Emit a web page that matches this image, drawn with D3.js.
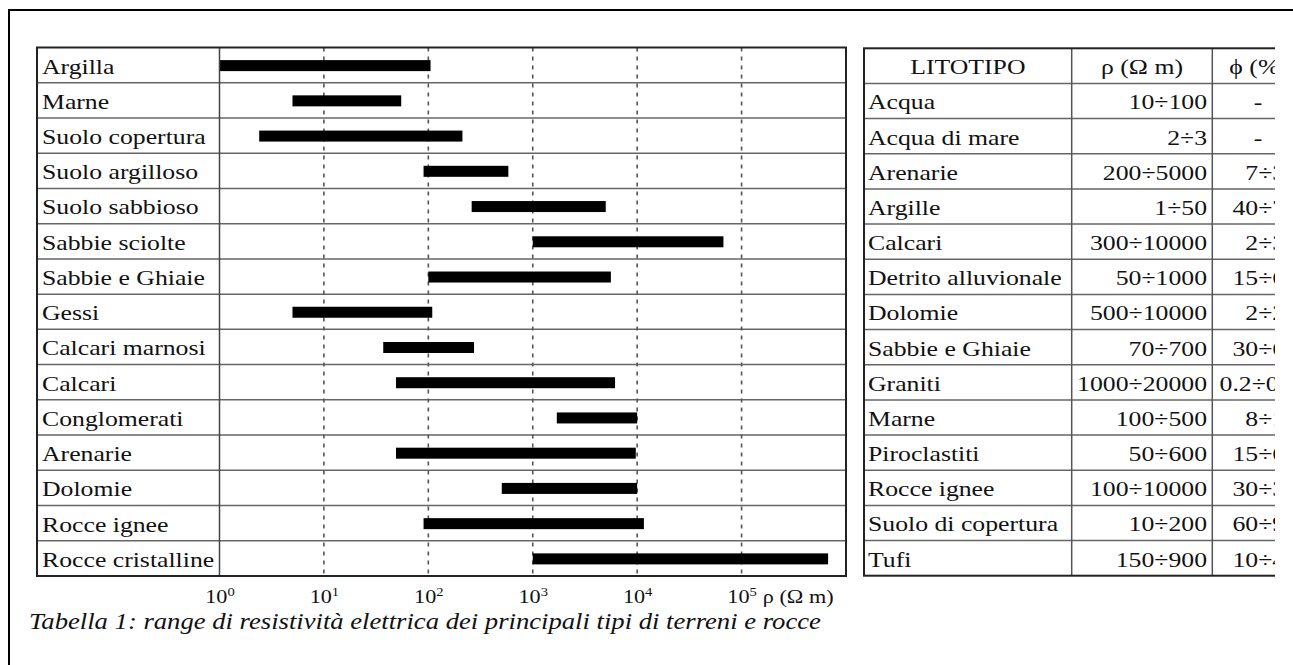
<!DOCTYPE html>
<html>
<head>
<meta charset="utf-8">
<script src="https://cdn.jsdelivr.net/npm/d3@7"></script>
<style>
  html, body { margin: 0; padding: 0; background: #fff; }
  svg { display: block; }
  text { font-family: "Liberation Serif", "Times New Roman", serif; fill: #111; }
</style>
</head>
<body>
<script>
// ---------- data ----------
const categories = ["Argilla","Marne","Suolo copertura","Suolo argilloso","Suolo sabbioso","Sabbie sciolte","Sabbie e Ghiaie","Gessi","Calcari marnosi","Calcari","Conglomerati","Arenarie","Dolomie","Rocce ignee","Rocce cristalline"];
const rhoMin = [1, 5, 2.4, 90, 260, 1000, 100, 5, 37, 49, 1700, 49, 505, 90, 1000];
const rhoMax = [105, 55, 212, 584, 5000, 67000, 5600, 109, 274, 6140, 10000, 9700, 10000, 11600, 674000];
const tickValues = [1, 10, 100, 1000, 10000, 100000];
const tickExponents = ["0", "1", "2", "3", "4", "5"];
const axisUnit = "ρ (Ω m)";
const caption = "Tabella 1: range di resistività elettrica dei principali tipi di terreni e rocce";

const tableHeader = ["LITOTIPO", "ρ (Ω m)", "ϕ (%)"];
const litotipi = ["Acqua","Acqua di mare","Arenarie","Argille","Calcari","Detrito alluvionale","Dolomie","Sabbie e Ghiaie","Graniti","Marne","Piroclastiti","Rocce ignee","Suolo di copertura","Tufi"];
const rhoRanges = ["10÷100","2÷3","200÷5000","1÷50","300÷10000","50÷1000","500÷10000","70÷700","1000÷20000","100÷500","50÷600","100÷10000","10÷200","150÷900"];
const phiRanges = ["-","-","7÷30","40÷70","2÷30","15÷60","2÷20","30÷60","0.2÷0.5","8÷15","15÷60","30÷35","60÷90","10÷40"];

// ---------- layout ----------
const W = 1293, H = 665;
const SX = 1.17; // horizontal glyph stretch of the source picture
const svg = d3.select("body").append("svg").attr("width", W).attr("height", H);
svg.append("rect").attr("width", W).attr("height", H).attr("fill", "#fff");

// page frame
svg.append("path").attr("d", "M9,665V10H1293").attr("fill", "none").attr("stroke", "#000").attr("stroke-width", 2);

// ---------- left chart ----------
const cLeft = 37, labelRight = 219.5, cRight = 846, cTop = 47.5, cBottom = 576;
const x = d3.scaleLog().domain([1, 1e6]).range([labelRight, cRight]);
const y = d3.scaleBand().domain(categories).range([cTop, cBottom]);

const chart = svg.append("g");
// row separators
chart.selectAll("line.row").data(categories.slice(1)).join("line")
  .attr("class", "row")
  .attr("x1", cLeft).attr("x2", cRight)
  .attr("y1", d => y(d)).attr("y2", d => y(d))
  .attr("stroke", "#666").attr("stroke-width", 1.5);

// dashed decade lines
chart.selectAll("line.grid").data(tickValues.slice(1)).join("line")
  .attr("class", "grid")
  .attr("x1", d => x(d)).attr("x2", d => x(d))
  .attr("y1", cTop).attr("y2", cBottom)
  .attr("stroke", "#555").attr("stroke-width", 1.6)
  .attr("stroke-dasharray", "4,5");

// bars
chart.selectAll("rect.bar").data(categories).join("rect")
  .attr("class", "bar")
  .attr("x", (d, i) => x(rhoMin[i]))
  .attr("width", (d, i) => x(rhoMax[i]) - x(rhoMin[i]))
  .attr("y", d => y(d) + y.bandwidth() / 2 - 5)
  .attr("height", 11)
  .attr("fill", "#000");

// label column divider and border
chart.append("line").attr("x1", labelRight).attr("x2", labelRight).attr("y1", cTop).attr("y2", cBottom)
  .attr("stroke", "#444").attr("stroke-width", 1.5);
chart.append("rect").attr("x", cLeft).attr("y", cTop).attr("width", cRight - cLeft).attr("height", cBottom - cTop)
  .attr("fill", "none").attr("stroke", "#222").attr("stroke-width", 2);

// row labels
chart.selectAll("text.lab").data(categories).join("text")
  .attr("class", "lab")
  .attr("transform", d => `translate(42,${y(d) + 26}) scale(${SX},1)`)
  .attr("font-size", 22)
  .text(d => d);

// axis
const axis = d3.axisBottom(x).tickValues(tickValues).tickSize(0).tickFormat(() => "");
const ag = svg.append("g").attr("transform", "translate(0,603)").call(axis);
ag.select(".domain").remove();
ag.selectAll(".tick text").each(function (d, i) {
  const t = d3.select(this);
  t.attr("y", 0).attr("dy", 0).attr("fill", "#111")
    .attr("font-family", "Liberation Serif, serif").attr("font-size", 19)
    .attr("text-anchor", "middle").attr("transform", `scale(${SX},1)`);
  t.text(null);
  t.append("tspan").text("10");
  t.append("tspan").attr("font-size", 12.5).attr("dy", -7).text(tickExponents[i]);
  if (i === tickValues.length - 1) {
    const w = this.getComputedTextLength();
    d3.select(this.parentNode).append("text")
      .attr("transform", `translate(${w * SX / 2 + 6},0) scale(${SX},1)`)
      .attr("font-family", "Liberation Serif, serif").attr("font-size", 19)
      .attr("fill", "#111").attr("text-anchor", "start")
      .text(axisUnit);
  }
});

// caption
svg.append("text")
  .attr("transform", "translate(29,629) scale(1.11,1)")
  .attr("font-size", 24).attr("font-style", "italic")
  .text(caption);

// ---------- right table ----------
svg.append("defs").append("clipPath").attr("id", "cut")
  .append("rect").attr("x", 0).attr("y", 0).attr("width", 1275).attr("height", H);
const tb = svg.append("g").attr("clip-path", "url(#cut)");
const cols = [864, 1071.7, 1212.3, 1305];
const tTop = 48.3, tBottom = 575.7;
const rowsIdx = d3.range(litotipi.length + 1);
const y2 = d3.scaleBand().domain(rowsIdx).range([tTop, tBottom]);

tb.selectAll("line.trow").data(rowsIdx.slice(1)).join("line")
  .attr("class", "trow")
  .attr("x1", cols[0]).attr("x2", cols[3])
  .attr("y1", d => y2(d)).attr("y2", d => y2(d))
  .attr("stroke", "#666").attr("stroke-width", 1.5);
tb.selectAll("line.tcol").data([cols[1], cols[2]]).join("line")
  .attr("class", "tcol")
  .attr("x1", d => d).attr("x2", d => d).attr("y1", tTop).attr("y2", tBottom)
  .attr("stroke", "#555").attr("stroke-width", 1.5);
tb.append("rect").attr("x", cols[0]).attr("y", tTop).attr("width", cols[3] - cols[0]).attr("height", tBottom - tTop)
  .attr("fill", "none").attr("stroke", "#222").attr("stroke-width", 2);

// header
tableHeader.forEach((h, j) => {
  tb.append("text")
    .attr("transform", `translate(${(cols[j] + cols[j + 1]) / 2},${y2(0) + 26}) scale(${SX},1)`)
    .attr("text-anchor", "middle").attr("font-size", 22)
    .text(h);
});
// body
litotipi.forEach((name, i) => {
  const yy = y2(i + 1) + 26;
  tb.append("text").attr("transform", `translate(868,${yy}) scale(${SX},1)`)
    .attr("font-size", 22).text(name);
  tb.append("text").attr("transform", `translate(1207,${yy}) scale(${SX},1)`)
    .attr("font-size", 22).attr("text-anchor", "end").text(rhoRanges[i]);
  const p = phiRanges[i];
  tb.append("text")
    .attr("transform", p === "-" ? `translate(1258,${yy}) scale(${SX},1)` : `translate(1298,${yy}) scale(${SX},1)`)
    .attr("font-size", 22).attr("text-anchor", p === "-" ? "middle" : "end").text(p);
});
</script>
</body>
</html>
